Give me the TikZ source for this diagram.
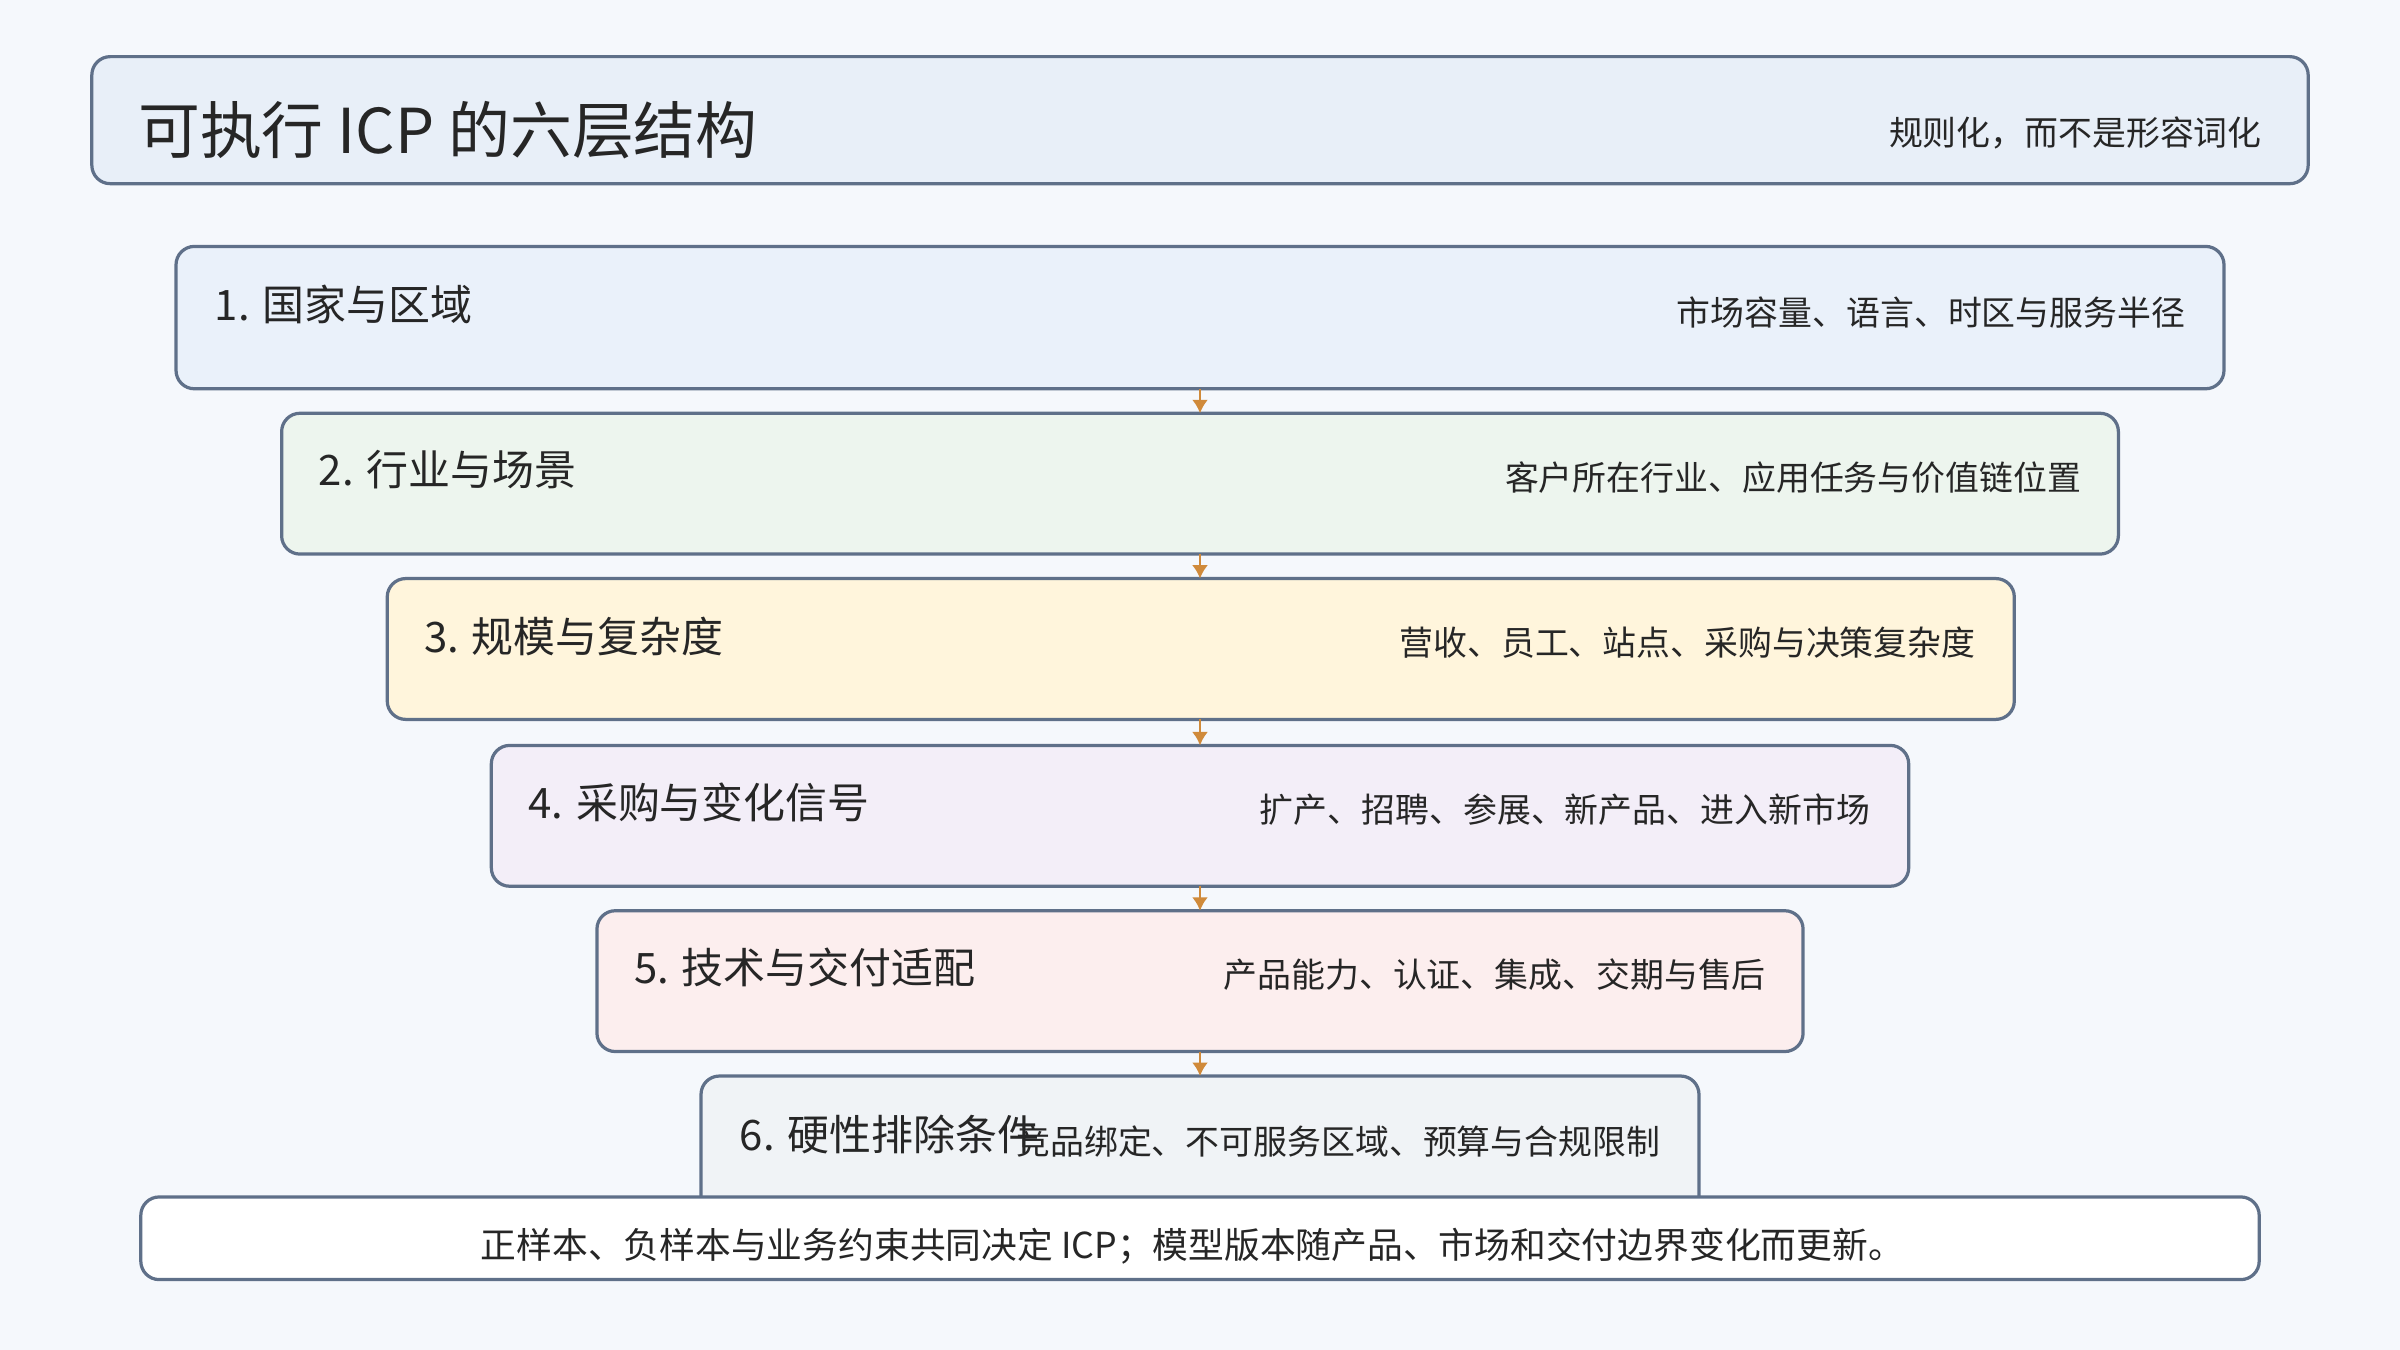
\documentclass[tikz,border=0pt]{standalone}
\usepackage{fontspec}
\setmainfont{Noto Sans CJK SC}
\usetikzlibrary{arrows.meta}
\definecolor{c-edge}{HTML}{5F7089}
\definecolor{c-arr}{HTML}{D08A3A}
\definecolor{c-bg}{HTML}{F5F8FC}
\definecolor{f0}{HTML}{E8EFF8}
\definecolor{f1}{HTML}{EAF1FA}\definecolor{f2}{HTML}{EDF5EE}\definecolor{f3}{HTML}{FFF5DC}
\definecolor{f4}{HTML}{F3EEF8}\definecolor{f5}{HTML}{FCEEEE}\definecolor{f6}{HTML}{F0F3F6}
\begin{document}
\begin{tikzpicture}[x=0.02cm,y=-0.02cm,
  box/.style={draw=c-edge,line width=1.2pt,rounded corners=0.24cm},
  lab/.style={anchor=west,inner sep=0pt,font=\fontsize{15.6}{17}\selectfont,text=black!85},
  rt/.style={anchor=east,inner sep=0pt,font=\fontsize{12.6}{14}\selectfont,text=black!85},
  arr/.style={-{Latex[length=5pt,width=6pt]},draw=c-arr,line width=1pt}]
\fill[c-bg] (0,0) rectangle (1568,882);
\useasboundingbox (0,0) rectangle (1568,882);
\draw[box,fill=f0] (60,37) rectangle (1508,120);
\node[anchor=west,inner sep=0pt,font=\fontsize{23}{26}\selectfont,text=black!85] (title) at (90,85) {可执行 ICP 的六层结构};
\node[rt] (sub) at (1478,87) {规则化，而不是形容词化};
\draw[box,fill=f1] (115,161) rectangle (1453,254);
\node[lab] (l1) at (140,199) {1. 国家与区域};
\node[rt] (r1) at (1428,204) {市场容量、语言、时区与服务半径};
\draw[box,fill=f2] (184,270) rectangle (1384,362);
\node[lab] (l2) at (208,307) {2. 行业与场景};
\node[rt] (r2) at (1360,312) {客户所在行业、应用任务与价值链位置};
\draw[box,fill=f3] (253,378) rectangle (1316,470);
\node[lab] (l3) at (277,416) {3. 规模与复杂度};
\node[rt] (r3) at (1291,420) {营收、员工、站点、采购与决策复杂度};
\draw[box,fill=f4] (321,487) rectangle (1247,579);
\node[lab] (l4) at (345,524) {4. 采购与变化信号};
\node[rt] (r4) at (1222,529) {扩产、招聘、参展、新产品、进入新市场};
\draw[box,fill=f5] (390,595) rectangle (1178,687);
\node[lab] (l5) at (414,632) {5. 技术与交付适配};
\node[rt] (r5) at (1154,637) {产品能力、认证、集成、交期与售后};
\draw[box,fill=f6] (458,703) rectangle (1110,800);
\node[lab] (l6) at (483,741) {6. 硬性排除条件};
\node[rt] (r6) at (1085,746) {竞品绑定、不可服务区域、预算与合规限制};
\coordinate (a1) at (784,254); \coordinate (a2) at (784,270);
\coordinate (a3) at (784,362); \coordinate (a4) at (784,378);
\coordinate (a5) at (784,470); \coordinate (a6) at (784,487);
\coordinate (a7) at (784,579); \coordinate (a8) at (784,595);
\coordinate (a9) at (784,687); \coordinate (a10) at (784,703);
\draw[arr] (a1)--(a2); \draw[arr] (a3)--(a4); \draw[arr] (a5)--(a6);
\draw[arr] (a7)--(a8); \draw[arr] (a9)--(a10);
\draw[box,fill=white] (92,782) rectangle (1476,836);
\node[font=\fontsize{13.3}{15}\selectfont,text=black!85] (foot) at (779,814) {正样本、负样本与业务约束共同决定 ICP；模型版本随产品、市场和交付边界变化而更新。};
\end{tikzpicture}
\end{document}
